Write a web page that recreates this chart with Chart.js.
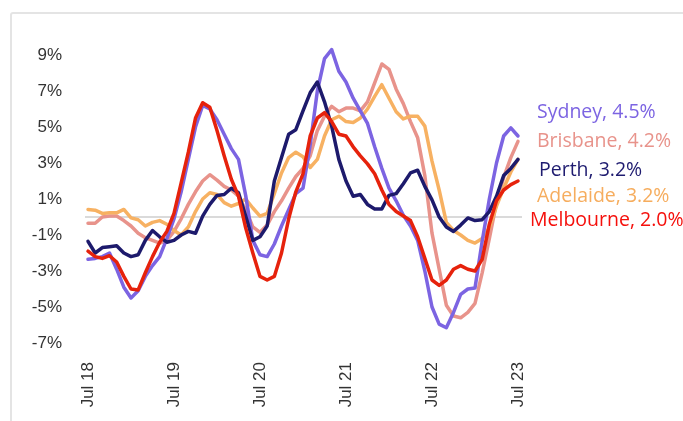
<!DOCTYPE html>
<html>
<head>
<meta charset="utf-8">
<script src="https://cdn.jsdelivr.net/npm/chart.js@4.4.0/dist/chart.umd.min.js"></script>
<style>
  html, body { margin: 0; padding: 0; background: #ffffff; }
  #wrap { position: relative; width: 683px; height: 421px; overflow: hidden; }
  #frame { position: absolute; left: 10px; top: 12px; width: 700px; height: 440px;
           border: 2px solid #e4e4e4; border-radius: 3px; box-sizing: border-box; }
  #c { position: absolute; left: 0; top: 0; }
</style>
</head>
<body>
<div id="wrap">
  <div id="frame"></div>
  <canvas id="c" width="683" height="421"></canvas>
</div>
<script>
const months = ["Jul 18","Aug 18","Sep 18","Oct 18","Nov 18","Dec 18","Jan 19","Feb 19","Mar 19","Apr 19","May 19","Jun 19",
  "Jul 19","Aug 19","Sep 19","Oct 19","Nov 19","Dec 19","Jan 20","Feb 20","Mar 20","Apr 20","May 20","Jun 20",
  "Jul 20","Aug 20","Sep 20","Oct 20","Nov 20","Dec 20","Jan 21","Feb 21","Mar 21","Apr 21","May 21","Jun 21",
  "Jul 21","Aug 21","Sep 21","Oct 21","Nov 21","Dec 21","Jan 22","Feb 22","Mar 22","Apr 22","May 22","Jun 22",
  "Jul 22","Aug 22","Sep 22","Oct 22","Nov 22","Dec 22","Jan 23","Feb 23","Mar 23","Apr 23","May 23","Jun 23",
  "Jul 23"];

const yTicks = [-7, -5, -3, -1, 1, 3, 5, 7, 9];

const sydney = [-2.35,-2.3,-2.2,-2.0,-2.9,-3.9,-4.5,-4.1,-3.3,-2.7,
  -2.2,-1.2,-0.1,1.4,3.2,5.0,6.2,6.0,5.4,4.6,
  3.8,3.2,1.2,-1.3,-2.1,-2.2,-1.5,-0.5,0.4,1.3,
  1.6,4.0,7.0,8.8,9.3,8.1,7.5,6.6,5.9,5.2,
  3.9,2.7,1.6,0.9,0.1,-0.5,-1.3,-3.0,-5.0,-5.95,
  -6.15,-5.3,-4.3,-4.0,-3.95,-1.35,1.0,3.0,4.5,4.95,
  4.5];

const brisbane = [-0.35,-0.35,0.0,0.05,0.05,-0.2,-0.5,-0.9,-1.15,-1.3,
  -1.45,-1.3,-0.8,-0.1,0.7,1.4,2.0,2.35,2.05,1.7,
  1.5,1.15,0.4,-0.55,-0.85,-0.45,0.3,0.9,1.6,2.25,
  2.7,3.4,4.8,5.6,6.15,5.85,6.05,6.05,5.9,6.4,
  7.45,8.5,8.2,7.1,6.3,5.3,4.4,2.3,-0.9,-2.9,
  -4.9,-5.5,-5.6,-5.3,-4.8,-3.1,-1.2,0.8,2.2,3.3,
  4.2];

const perth = [-1.35,-2.0,-1.7,-1.65,-1.6,-2.0,-2.2,-2.1,-1.3,-0.75,
  -1.1,-1.4,-1.3,-1.0,-0.8,-0.9,0.05,0.7,1.2,1.25,
  1.6,1.35,0.05,-1.3,-1.1,-0.5,2.0,3.3,4.6,4.85,
  5.9,6.9,7.5,6.4,5.05,3.2,2.0,1.15,1.25,0.7,
  0.45,0.45,1.2,1.3,1.85,2.45,2.6,1.7,0.95,0.0,
  -0.55,-0.8,-0.45,-0.05,-0.2,-0.15,0.3,1.15,2.3,2.7,
  3.2];

const adelaide = [0.42,0.38,0.2,0.23,0.23,0.42,-0.05,-0.15,-0.5,-0.3,
  -0.2,-0.4,-0.75,-1.0,-0.55,0.3,1.0,1.35,1.25,0.8,
  0.6,0.75,1.0,0.5,0.05,0.2,1.3,2.45,3.3,3.6,
  3.35,2.75,3.2,4.5,5.4,5.6,5.3,5.25,5.5,6.0,
  6.7,7.35,6.6,5.85,5.45,5.6,5.6,5.05,3.1,1.5,
  -0.3,-0.75,-1.0,-1.3,-1.45,-1.2,-0.6,0.6,1.6,2.5,
  3.2];

const melbourne = [-1.9,-2.2,-2.3,-2.15,-2.5,-3.3,-4.0,-4.05,-3.1,-2.2,
  -1.4,-0.8,0.2,1.9,3.6,5.5,6.35,6.1,4.8,3.4,
  2.1,1.15,-0.6,-2.0,-3.3,-3.5,-3.3,-2.0,-0.1,1.4,
  2.4,4.5,5.5,5.8,5.3,4.6,4.5,3.9,3.4,2.95,
  2.4,1.5,0.7,0.3,0.05,-0.2,-1.1,-2.3,-3.5,-3.8,
  -3.5,-2.9,-2.7,-2.9,-3.0,-2.35,-0.4,0.9,1.5,1.8,
  2.0];

const seriesNames = ["Sydney", "Brisbane", "Perth", "Adelaide", "Melbourne"];
const latestValues = [4.5, 4.2, 3.2, 3.2, 2.0];

const lineColors = {
  Sydney: "#7c64e2", Brisbane: "#e8938b", Perth: "#1d1a6c", Adelaide: "#f7b162", Melbourne: "#e6220c"
};
const labelColors = {
  Sydney: "#7c64e2", Brisbane: "#e8938b", Perth: "#1f1c70", Adelaide: "#f6ad5e", Melbourne: "#f5100c"
};
// label placement (left x, baseline y) in canvas pixels
const labelPos = {
  Sydney: [537, 118], Brisbane: [537, 147], Perth: [539, 176], Adelaide: [537, 202], Melbourne: [530, 226]
};

const zeroLine = {
  id: 'zeroLine',
  beforeDatasetsDraw(chart) {
    const ctx = chart.ctx, y = chart.scales.y.getPixelForValue(0), a = chart.chartArea;
    ctx.save();
    ctx.strokeStyle = '#dadada';
    ctx.lineWidth = 2;
    ctx.beginPath();
    ctx.moveTo(a.left - 3, y);
    ctx.lineTo(a.right + 4, y);
    ctx.stroke();
    ctx.restore();
  }
};

const endLabels = {
  id: 'endLabels',
  afterDraw(chart) {
    const ctx = chart.ctx;
    ctx.save();
    ctx.font = '500 19.5px "Open Sans", sans-serif';
    ctx.textBaseline = 'alphabetic';
    ctx.textAlign = 'left';
    seriesNames.forEach((n, i) => {
      ctx.fillStyle = labelColors[n];
      const p = labelPos[n];
      ctx.fillText(n + ', ' + latestValues[i].toFixed(1) + '%', p[0], p[1]);
    });
    ctx.restore();
  }
};

const dataMap = { Sydney: sydney, Brisbane: brisbane, Perth: perth, Adelaide: adelaide, Melbourne: melbourne };
const drawOrder = { Melbourne: 0, Perth: 1, Sydney: 2, Adelaide: 3, Brisbane: 4 };

new Chart(document.getElementById('c'), {
  type: 'line',
  data: {
    labels: months,
    datasets: seriesNames.map(n => ({
      label: n,
      data: dataMap[n],
      borderColor: lineColors[n],
      backgroundColor: lineColors[n],
      borderWidth: 3.5,
      pointRadius: 0,
      tension: 0,
      clip: false,
      order: drawOrder[n],
      borderJoinStyle: 'round',
      borderCapStyle: 'round'
    }))
  },
  options: {
    responsive: false,
    animation: false,
    devicePixelRatio: 1,
    layout: { padding: { left: 0, right: 165, top: 55, bottom: 0 } },
    plugins: { legend: { display: false }, tooltip: { enabled: false } },
    scales: {
      x: {
        grid: { display: false, drawTicks: false },
        border: { display: false },
        afterFit(scale) { scale.height = 78; },
        ticks: {
          autoSkip: false,
          minRotation: 90,
          maxRotation: 90,
          padding: 19,
          color: '#333333',
          font: { family: '"Liberation Sans", Arial, sans-serif', size: 17 },
          callback(v, i) { return i % 12 === 0 ? months[i] : ''; }
        }
      },
      y: {
        min: -7,
        max: 9,
        afterFit(scale) { scale.width = 88; },
        afterBuildTicks(scale) { scale.ticks = yTicks.map(v => ({ value: v })); },
        grid: { display: false, drawTicks: false },
        border: { display: false },
        ticks: {
          padding: 26,
          color: '#333333',
          font: { family: '"Liberation Sans", Arial, sans-serif', size: 17 },
          callback(v) { return v + '%'; }
        }
      }
    }
  },
  plugins: [zeroLine, endLabels]
});
</script>
</body>
</html>
